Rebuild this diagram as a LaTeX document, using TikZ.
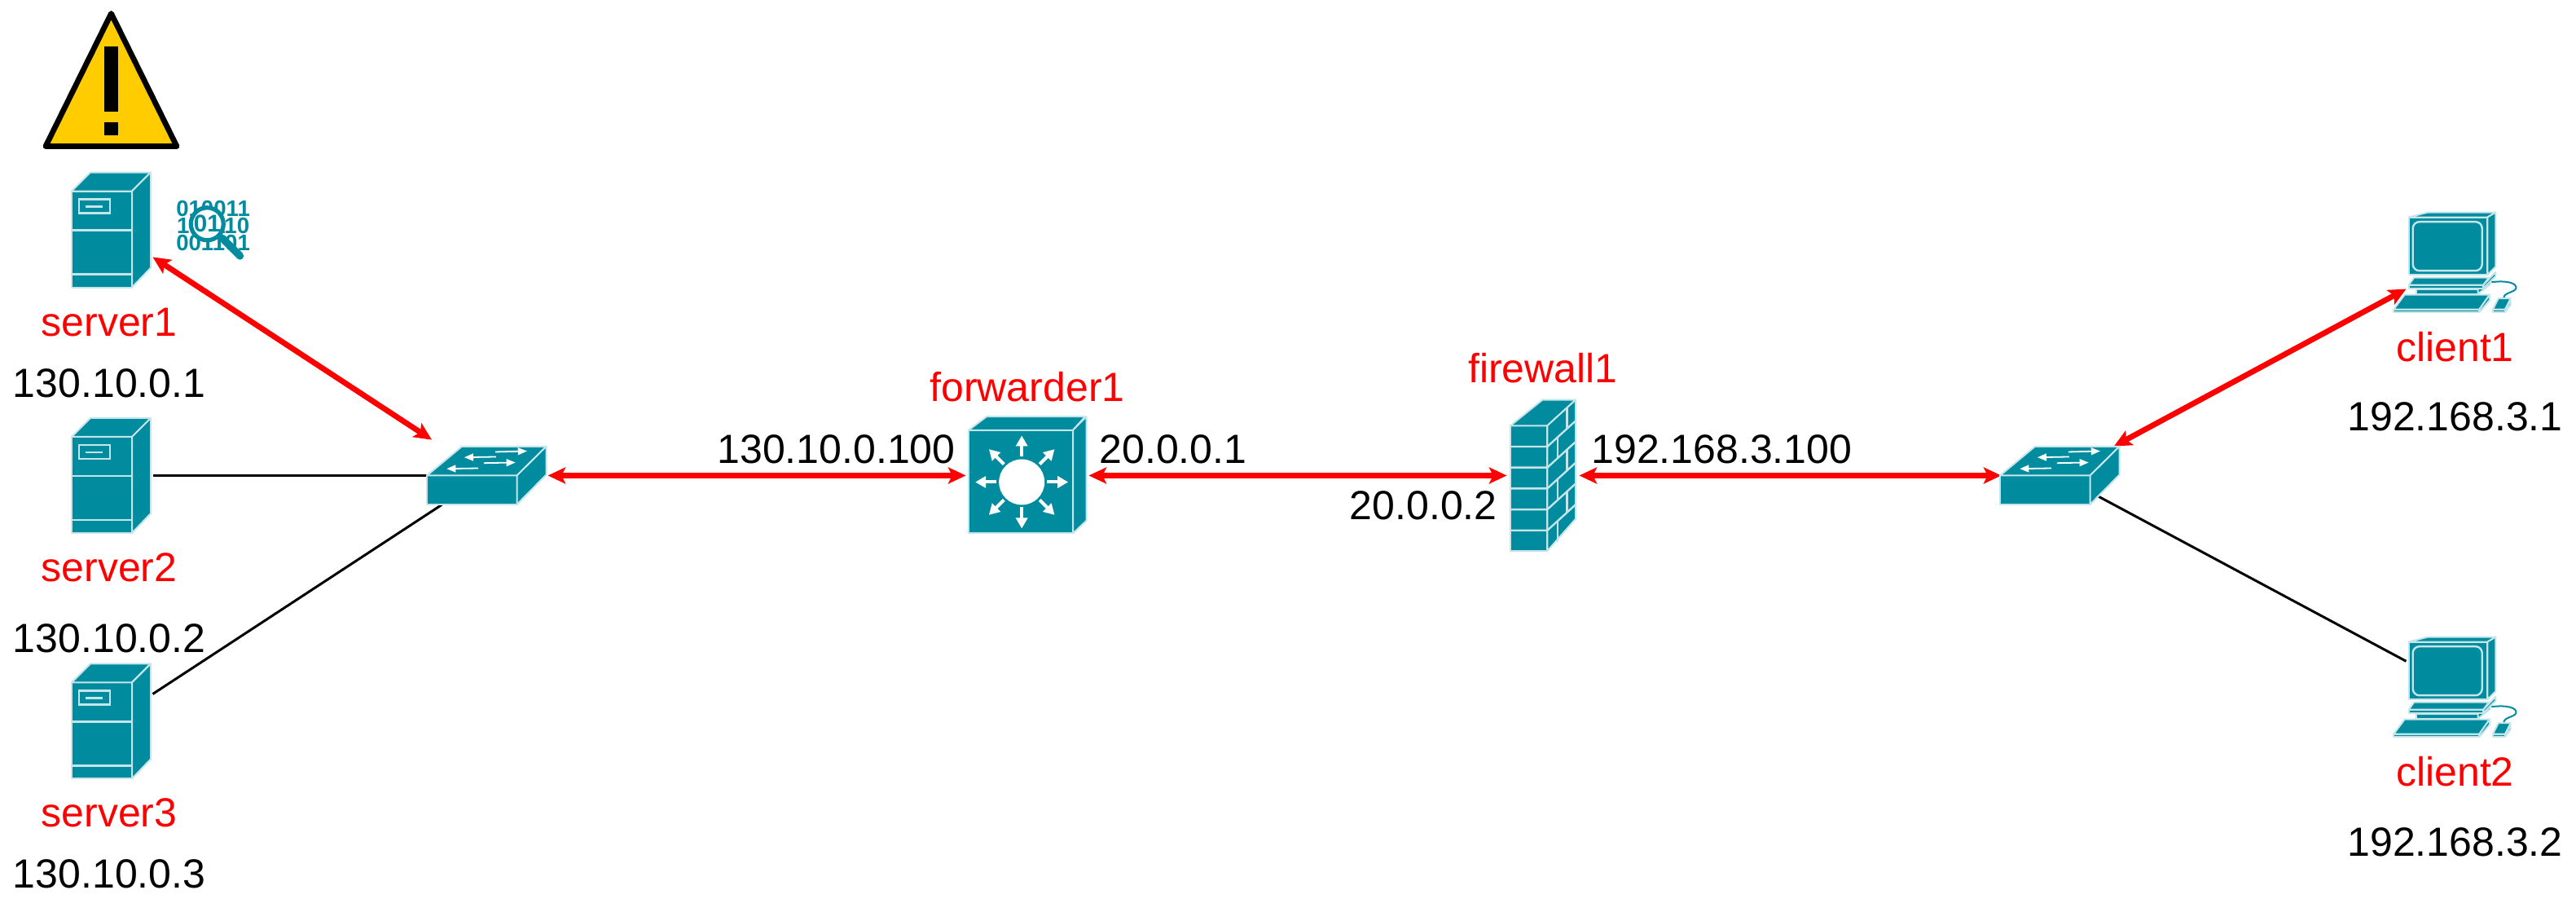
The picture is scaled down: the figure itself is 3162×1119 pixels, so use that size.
\documentclass[tikz,border=0pt]{standalone}
\usepackage{fontspec}
\setmainfont{Liberation Sans}
\usetikzlibrary{arrows.meta,positioning}
\definecolor{iconteal}{HTML}{008B9E}
\definecolor{iconedge}{HTML}{C4E6EA}
\definecolor{warnyellow}{HTML}{FFCC00}
\tikzset{
  dev_box/.style={rectangle, inner sep=0pt, outer sep=0pt},
  server_box/.style={dev_box, minimum width=25.5pt, minimum height=35.25pt},
  switch_box/.style={dev_box, minimum width=36.75pt, minimum height=18pt},
  client_box/.style={dev_box, minimum width=30pt, minimum height=30.75pt},
  base_text/.style={font=\fontsize{12.5}{15}\selectfont, inner sep=0pt, outer sep=0pt, text height=9pt, text depth=0pt},
  dev_label/.style={base_text, text=red},
  addr_label/.style={base_text, text=black},
  link/.style={{Stealth[length=5.4pt,width=5pt,inset=1.2pt]}-{Stealth[length=5.4pt,width=5pt,inset=1.2pt]}, draw=red, line width=1.7pt},
  wire/.style={draw=black, line width=.75pt},
  icon_part/.style={fill=iconteal, draw=iconedge, line width=.5pt, line join=round},
  icon_line/.style={draw=iconedge, line width=.6pt},
  flow_arrow/.style={-{Triangle[length=2.8pt,width=2.2pt]}, draw=white, fill=white, line width=.45pt},
  ray_arrow/.style={-{Triangle[length=3.25pt,width=3.5pt]}, draw=white, fill=white, line width=1pt},
  servericon/.pic={
    \draw[icon_part] (-48.5,-47.5) rectangle (25.5,70.5);
    \draw[icon_part] (-48.5,-47.5) -- (-25.5,-70.5) -- (48.5,-70.5) -- (25.5,-47.5) -- cycle;
    \draw[icon_part] (25.5,-47.5) -- (48.5,-70.5) -- (48.5,46.5) -- (25.5,70.5) -- cycle;
    \draw[icon_line] (-48.5,.5) -- (25.5,.5);
    \draw[icon_line] (-48.5,54.5) -- (25.5,54.5);
    \draw[icon_line] (-39.5,-37.5) rectangle (-1.5,-20.5);
    \draw[icon_line] (-31.5,-28.5) -- (-10.5,-28.5);
  },
  switchicon/.pic={
    \draw[icon_part] (-73,0) rectangle (37.5,35.5);
    \draw[icon_part] (-73,0) -- (-30,-35.7) -- (73.5,-35.7) -- (37.5,0) -- cycle;
    \draw[icon_part] (37.5,0) -- (73.5,-35.7) -- (73.5,-1) -- (37.5,35.5) -- cycle;
    \draw[flow_arrow] (10.8,-29) -- (50,-30);
    \draw[flow_arrow] (11.8,-23) -- (-27.2,-22.3);
    \draw[flow_arrow] (-3.2,-15.3) -- (35.8,-16);
    \draw[flow_arrow] (-9.8,-9) -- (-48.8,-8.3);
  },
  routericon/.pic={
    \draw[icon_part] (-72,-55.7) rectangle (56,71);
    \draw[icon_part] (-72,-55.7) -- (-50,-72.3) -- (71,-72.3) -- (56,-55.7) -- cycle;
    \draw[icon_part] (56,-55.7) -- (72.5,-72.3) -- (72.5,55.3) -- (56,71) -- cycle;
    \begin{scope}[shift={(-6.8,8)}]
      \fill[white] (0,0) circle (28);
      \foreach \a in {0,45,...,315}
        \draw[ray_arrow] (\a:31) -- (\a:57);
    \end{scope}
  },
  wallicon/.pic={
    \draw[icon_part] (-40,-61.2) rectangle (5.3,92.5);
    \draw[icon_part] (-40,-61.2) -- (-.7,-92.8) -- (40,-92.8) -- (5.3,-61.2) -- cycle;
    \draw[icon_part] (5.3,-61.2) -- (40,-92.8) -- (40,53.2) -- (5.3,92.5) -- cycle;
    \foreach \k in {1,...,5}
      \draw[icon_line] (-40,{-61.2+25.7*\k}) -- (5.3,{-61.2+25.7*\k}) -- (40,{-92.8+25.7*\k});
    \foreach \k/\xv in {0/29.3,1/17.7,2/29.3,3/17.7,4/29.3,5/17.7}
      \draw[icon_line] (\xv,{-61.2+25.7*\k-.91*(\xv-5.3)}) -- (\xv,{-61.2+25.7*(\k+1)-.91*(\xv-5.3)});
  },
  clienticon/.pic={
    % Monitor
    \draw[icon_part] (-56.8,-55.8) rectangle (39.8,14.8);
    \draw[icon_part] (-56.8,-55.8) -- (-33.5,-61.8) -- (49.8,-61.8) -- (39.8,-55.8) -- cycle;
    \draw[icon_part] (39.8,-55.8) -- (49.8,-61.8) -- (49.8,4.8) -- (39.8,14.8) -- cycle;
    \draw[icon_line, rounded corners=8*.25pt] (-51.8,-50.2) rectangle (33.2,9.8);
    % Stand
    \draw[icon_part] (-47.8,32.5) rectangle (28.2,38.2);
    \draw[icon_part] (28.2,32.5) -- (43.2,20) -- (43.2,26.5) -- (28.2,38.2) -- cycle;
    \draw[icon_part] (-56.8,27.2) rectangle (34.8,31.2);
    \draw[icon_part] (-56.8,27.2) -- (-50.2,18.2) -- (41.5,18.2) -- (34.8,27.2) -- cycle;
    \draw[icon_part] (34.8,27.2) -- (49.8,11.5) -- (49.8,16.5) -- (34.8,31.2) -- cycle;
    % Keyboard and mouse
    \draw[icon_part] (-75.2,57.2) rectangle (29.8,60.8);
    \draw[icon_part] (-75.2,57.2) -- (-61.8,39.2) -- (42.5,39.2) -- (29.8,57.2) -- cycle;
    \draw[icon_part] (29.8,57.2) -- (42.5,39.2) -- (42.5,45.8) -- (29.8,60.8) -- cycle;
    \draw[draw=iconteal, line width=.5pt] (44.8,23.8) .. controls (63.2,21.5) and (76.5,24.8) .. (74.8,31.5) .. controls (73.2,36.5) and (59.8,36.5) .. (59.8,43.2);
    \draw[icon_part] (46.5,57.2) rectangle (61.5,60.5);
    \draw[icon_part] (46.5,57.2) -- (53.2,43.8) -- (68.2,43.8) -- (61.5,57.2) -- cycle;
    \draw[icon_part] (61.5,57.2) -- (68.2,46.5) -- (68.2,51.5) -- (61.5,60.5) -- cycle;
  },
  warnicon/.pic={
    \draw[fill=warnyellow, draw=black, line width=1.7pt, line join=round] (0,-83) -- (80.5,80) -- (-80.5,80) -- cycle;
    \fill[black] (-8.5,-42.5) rectangle (8.5,37.5);
    \fill[black] (-8.5,50) rectangle (8.5,66.7);
  },
  lensicon/.pic={
    \draw[draw=iconteal, fill=white, line width=1.3pt] (-7.3,-2.3) circle (20);
    \draw[draw=iconteal, line width=2.3pt, line cap=round] (11,15) -- (33,37);
    \node[font=\fontsize{7.4}{8}\selectfont\bfseries, text=iconteal, inner sep=0pt] (lens_text) at (-7.3,-2.3) {01};
  }
}

\begin{document}
\begin{tikzpicture}[x=.25pt, y=-.25pt]
  \useasboundingbox (0,0) rectangle (3162,1119);

  % Nodes
  \node[server_box] (server2) at (136.5,583.5) {};
  \node[server_box, above=40.1pt of server2] (server1) {};
  \node[server_box, below=40.1pt of server2] (server3) {};
  \node[switch_box, right=84pt of server2] (switch1) {};
  \node[dev_box, minimum width=37.75pt, minimum height=36pt, right=128.75pt of switch1] (forwarder1) {};
  \node[dev_box, minimum width=22.25pt, minimum height=46.25pt, right=128.25pt of forwarder1] (firewall1) {};
  \node[switch_box, right=129pt of firewall1] (switch2) {};
  \node[client_box, above right=40.9pt and 88pt of switch2] (client1) {};
  \node[client_box, below right=40.6pt and 88pt of switch2] (client2) {};

  % Labels
  \node[dev_label, below=5.9pt of server1, xshift=-.6pt] (name1) {server1};
  \node[dev_label, below=5.9pt of server2, xshift=-.6pt] (name2) {server2};
  \node[dev_label, below=5.9pt of server3, xshift=-.6pt] (name3) {server3};
  \node[addr_label, below=9.75pt of name1] (addr1) {130.10.0.1};
  \node[addr_label, below=12.75pt of name2] (addr2) {130.10.0.2};
  \node[addr_label, below=9.75pt of name3] (addr3) {130.10.0.3};
  \node[dev_label, above=4.75pt of forwarder1] (name4) {forwarder1};
  \node[dev_label, above=5.25pt of firewall1] (name5) {firewall1};
  \node[addr_label, above left=3.75pt and 3.25pt of forwarder1.west] (addr4) {130.10.0.100};
  \node[addr_label, above right=3.75pt and 3.25pt of forwarder1.east] (addr5) {20.0.0.1};
  \node[addr_label, below left=4.5pt and 3pt of firewall1.west] (addr6) {20.0.0.2};
  \node[addr_label, above right=3.75pt and 3.75pt of firewall1.east] (addr7) {192.168.3.100};
  \node[dev_label, below=6pt of client1] (name6) {client1};
  \node[dev_label, below=6pt of client2] (name7) {client2};
  \node[addr_label, below=12.25pt of name6] (addr8) {192.168.3.1};
  \node[addr_label, below=12.5pt of name7] (addr9) {192.168.3.2};
  \node[right=7pt of server1, yshift=1.25pt, inner sep=0pt, align=center, text=iconteal, font=\fontsize{6.9}{5.25}\selectfont\bfseries] (bits) {010011\\101110\\001101};
  \coordinate[above=28pt of server1] (warn);

  % Edges
  \draw[wire] (server2) -- (switch1);
  \draw[wire] (server3) -- (switch1);
  \draw[wire, shorten <=-5.5pt] (switch2) -- (client2);
  \draw[link, shorten >=3.6pt] (server1) -- (switch1);
  \draw[link, shorten <=.5pt] (switch1) -- (forwarder1);
  \draw[link] (forwarder1) -- (firewall1);
  \draw[link, shorten >=-.5pt] (firewall1) -- (switch2);
  \draw[link] (switch2) -- (client1);

  % Icons
  \pic at (server1) {servericon};
  \pic at (server2) {servericon};
  \pic at (server3) {servericon};
  \pic at (switch1) {switchicon};
  \pic at (switch2) {switchicon};
  \pic at (forwarder1) {routericon};
  \pic at (firewall1) {wallicon};
  \pic at (client1) {clienticon};
  \pic at (client2) {clienticon};
  \pic at (warn) {warnicon};
  \pic at (bits) {lensicon};
\end{tikzpicture}
\end{document}
